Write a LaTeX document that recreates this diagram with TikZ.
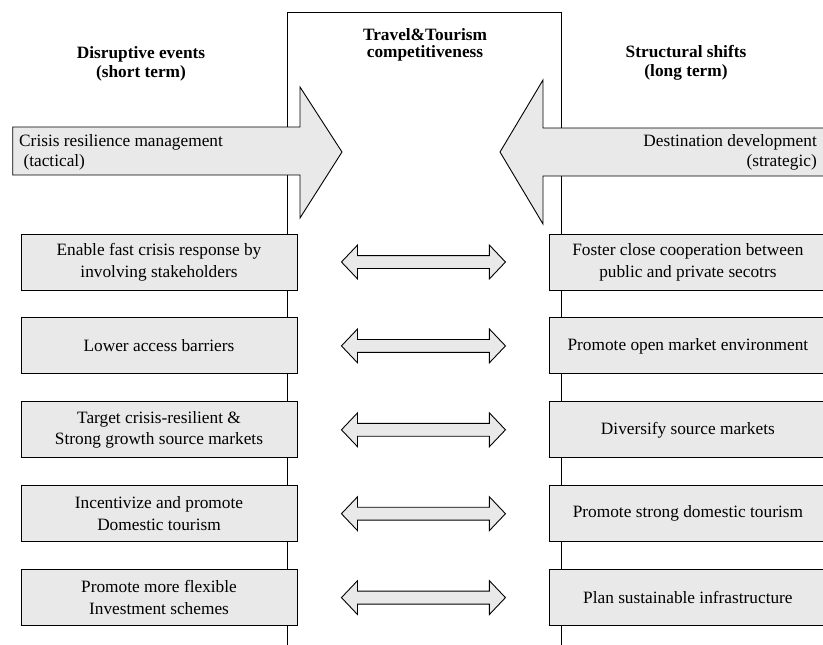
\documentclass[tikz,border=0pt]{standalone}
\usepackage{fontspec}
\setmainfont{Liberation Serif}
\usetikzlibrary{positioning,calc,shapes.arrows}

\definecolor{boxgray}{RGB}{233,233,233}

\begin{document}
\begin{tikzpicture}[x=1pt, y=-1pt,
  bx/.style={draw, fill=boxgray, line width=0.9pt, minimum width=276pt,
             minimum height=56pt, inner sep=0pt, align=center,
             font=\fontsize{17.3}{21.7}\selectfont},
  hd/.style={align=center, font=\fontsize{17.3}{19}\selectfont\bfseries},
  big/.style={draw, fill=boxgray, line width=0.9pt},
  lbl/.style={inner sep=5pt, font=\fontsize{17.3}{20}\selectfont},
  dar/.style={double arrow, draw, fill=boxgray, line width=0.9pt,
              minimum height=164pt, double arrow head extend=10.5pt,
              double arrow tip angle=93, inner ysep=6pt, inner xsep=0pt},
  fr/.style={line width=0.9pt}]
\useasboundingbox (0,0) rectangle (823,645);
\clip (0,0) rectangle (823,645);
% frame of the middle column
\draw[fr] (287,645) -- (287,12) -- (561.5,12) -- (561.5,645);
% headings
\node[hd] (short) at (141,64) {Disruptive events\\(short term)};
\node[hd, font=\fontsize{17.3}{17.5}\selectfont\bfseries] (ttc) at (425,45)
  {Travel\&Tourism\\competitiveness};
\node[hd] (long) at (686,63) {Structural shifts\\(long term)};
% the two big arrows
\draw[big] (12.7,127) -- (300,127) -- (300,87) -- (342,152) -- (300,218)
  -- (300,175) -- (12.7,175) -- cycle;
\draw[big] (840,128) -- (543,128) -- (543,80) -- (500,152) -- (543,224)
  -- (543,176) -- (840,176) -- cycle;
\node[lbl, anchor=west, align=left] (tact) at (14,152)
  {Crisis resilience management\\\ (tactical)};
\node[lbl, anchor=east, align=right] (strat) at (822,152)
  {Destination development\\(strategic)};
% measures, short term
\node[bx] (l1) at (159,262) {Enable fast crisis response by\\involving stakeholders};
\node[bx, below=27pt of l1] (l2) {Lower access barriers};
\node[bx, below=27pt of l2] (l3) {Target crisis-resilient \&\\Strong growth source markets};
\node[bx, below=27pt of l3] (l4) {Incentivize and promote\\Domestic tourism};
\node[bx, below=27pt of l4] (l5) {Promote more flexible\\Investment schemes};
% measures, long term
\node[bx, right=252pt of l1] (r1) {Foster close cooperation between\\public and private secotrs};
\node[bx, right=252pt of l2] (r2) {Promote open market environment};
\node[bx, right=252pt of l3] (r3) {Diversify source markets};
\node[bx, right=252pt of l4] (r4) {Promote strong domestic tourism};
\node[bx, right=252pt of l5] (r5) {Plan sustainable infrastructure};
% links
\node[dar] (d1) at ($(l1.east)!0.5!(r1.west)$) {};
\node[dar] (d2) at ($(l2.east)!0.5!(r2.west)$) {};
\node[dar] (d3) at ($(l3.east)!0.5!(r3.west)$) {};
\node[dar] (d4) at ($(l4.east)!0.5!(r4.west)$) {};
\node[dar] (d5) at ($(l5.east)!0.5!(r5.west)$) {};
\end{tikzpicture}
\end{document}
